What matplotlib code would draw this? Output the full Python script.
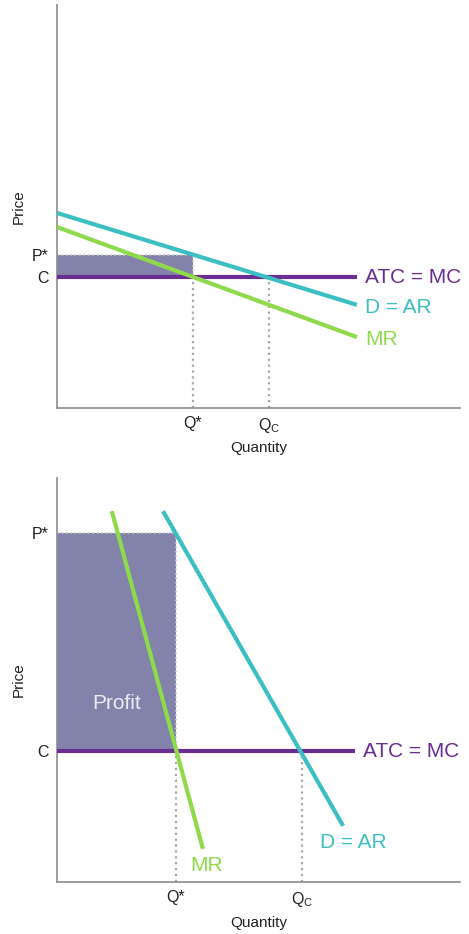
import matplotlib.pyplot as plt

plt.rcParams['font.family'] = ['Liberation Sans', 'DejaVu Sans']
plt.rcParams['mathtext.default'] = 'regular'

# values in chart units (0-100 on both axes)
# top panel: elastic demand
top_c = 32.5
top_p = 38.0
top_qstar = 33.7
top_qc = 52.6
top_d_x = [0, 74.4]
top_d_y = [48.4, 25.6]
top_mr_x = [0, 74.4]
top_mr_y = [44.9, 17.6]
top_atc_x = [0, 74.4]

# bottom panel: inelastic demand
bot_c = 32.4
bot_p = 86.4
bot_qstar = 29.5
bot_qc = 60.8
bot_d_x = [26.3, 71.0]
bot_d_y = [91.8, 13.9]
bot_mr_x = [13.6, 36.2]
bot_mr_y = [91.8, 8.2]
bot_atc_x = [0, 73.9]

purple = '#6a2d92'
teal = '#3cbfc2'
green = '#8fd94c'
shade = '#8282ab'
dots = '#a8a8a8'

fig = plt.figure(figsize=(4.69, 9.34), dpi=100)
ax1 = fig.add_axes([57/469, (934-408)/934, 403/469, 403/934])
ax2 = fig.add_axes([57/469, (934-882)/934, 403/469, 404/934])


def draw(ax, c, p, qstar, qc, d_x, d_y, mr_x, mr_y, atc_x, d_off, mr_off, profit):
    ax.set_xlim(0, 100)
    ax.set_ylim(0, 100)
    # profit rectangle
    ax.fill_between([0, qstar], c, p, color=shade, lw=0, zorder=1)
    ax.plot([0, qstar, qstar], [p, p, c], ls=':', color='#c8c8c8', lw=1.2, zorder=2)
    # dotted drop lines
    ax.plot([qstar, qstar], [0, c], ls=':', color=dots, lw=1.6, zorder=2)
    ax.plot([qc, qc], [0, c], ls=':', color=dots, lw=1.6, zorder=2)
    # curves
    ax.plot(atc_x, [c, c], color=purple, lw=3, solid_capstyle='butt', zorder=3)
    ax.plot(mr_x, mr_y, color=green, lw=3, solid_capstyle='butt', zorder=4)
    ax.plot(d_x, d_y, color=teal, lw=3, solid_capstyle='butt', zorder=5)
    # labels
    ax.annotate('ATC = MC', (atc_x[1], c), xytext=(6, 0), textcoords='offset points',
                color=purple, fontsize=15, va='center', ha='left', annotation_clip=False)
    ax.annotate('D = AR', (d_x[1], d_y[1]), xytext=d_off, textcoords='offset points',
                color=teal, fontsize=15, va='center', ha='left', annotation_clip=False)
    ax.annotate('MR', (mr_x[1], mr_y[1]), xytext=mr_off, textcoords='offset points',
                color=green, fontsize=15, va='center', ha='left', annotation_clip=False)
    if profit:
        ax.text(qstar / 2, c + 0.22 * (p - c), 'Profit', color='#ececf4', fontsize=15,
                ha='center', va='center', zorder=6)
    # axes
    for s in ['top', 'right']:
        ax.spines[s].set_visible(False)
    for s in ['left', 'bottom']:
        ax.spines[s].set_color('#8c8c8c')
        ax.spines[s].set_linewidth(1.2)
    ax.set_xticks([qstar, qc])
    ax.set_xticklabels(['Q*', 'Q$_C$'])
    ax.set_yticks([c, p])
    ax.set_yticklabels(['C', 'P*'])
    ax.tick_params(length=0, labelsize=11.5, pad=6, colors='#222222')
    ax.set_xlabel('Quantity', fontsize=11, color='#222222')
    ax.set_ylabel('Price', fontsize=11, color='#222222')
    ax.xaxis.set_label_coords(0.5, -0.083)
    ax.yaxis.set_label_coords(-0.078, 0.5)


draw(ax1, top_c, top_p, top_qstar, top_qc, top_d_x, top_d_y, top_mr_x, top_mr_y,
     top_atc_x, (6, -2), (6, -2), False)
draw(ax2, bot_c, bot_p, bot_qstar, bot_qc, bot_d_x, bot_d_y, bot_mr_x, bot_mr_y,
     bot_atc_x, (-17, -12), (-9, -12), True)

plt.savefig('out.png', dpi=100)
